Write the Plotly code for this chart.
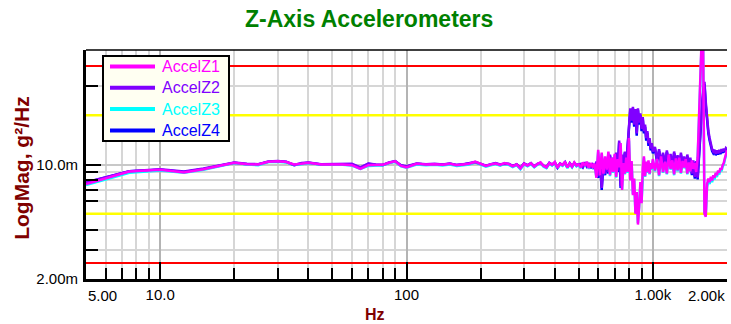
import math
import plotly.graph_objects as go

# ---------------- data ----------------
freq_hz = [5, 7.5, 10, 12.5, 15, 17.5, 20, 22.5, 25, 27.5, 30, 32.5, 35, 37.5, 40, 45, 50, 55, 60, 65,
           70, 75, 80, 85, 90, 95, 100,
           110, 120, 130, 140, 150, 160, 170, 180, 190, 200, 210, 220, 230, 240, 250, 260, 270, 280, 290, 300,
           310, 320, 330, 340, 350, 360, 370, 380, 390, 400, 410, 420, 430, 440, 450, 460, 470, 480, 490, 500,
           510, 520, 530, 540, 550, 560, 570, 580, 590, 600, 610, 620, 630, 640, 650, 660, 670, 680, 690, 700,
           710, 720, 730, 740, 750, 760, 770, 780, 790, 800, 810, 820, 830, 840, 850, 860, 870, 880, 890, 900,
           910, 920, 930, 940, 950, 960, 970, 980, 990, 1000,
           1020, 1040, 1060, 1080, 1100, 1120, 1140, 1160, 1180, 1200, 1220, 1240, 1260, 1280, 1300, 1320,
           1340, 1360, 1380, 1400, 1420, 1440, 1460, 1480, 1500, 1520, 1540, 1560, 1580, 1600, 1620, 1640,
           1660, 1680, 1700, 1720, 1740, 1760, 1780, 1800, 1820, 1840, 1860, 1880, 1900, 1920, 1940, 1960,
           1980, 2000]

# PSD values in milli-g^2/Hz
accel_z1 = [7.6, 9.05, 9.3, 8.95, 9.35, 9.8, 10.25, 10.05, 10.0, 10.4, 10.45, 10.35, 10.0, 10.1, 10.25, 10.0, 10.05, 10.0, 9.9, 9.4,
            9.9, 9.9, 9.95, 10.25, 10.45, 9.8, 9.6,
            10.1, 10.0, 10.05, 9.95, 10.1, 9.9, 10.0, 10.1, 10.4, 10.05, 9.8, 10.0, 10.15, 9.95, 10.2, 10.05, 9.75, 10.0, 9.45, 10.1,
            9.85, 10.15, 9.7, 10.05, 10.3, 9.8, 9.6, 10.2, 9.95, 10.35, 9.55, 10.1, 9.9, 10.4, 9.6, 10.15, 9.7, 10.3, 9.85, 10.0,
            9.6, 10.3, 9.8, 10.4, 9.5, 10.2, 9.7, 10.1, 8.3, 12.3, 8.6, 11.8, 8.8, 11.2, 9.3, 12.0, 8.6, 11.0, 9.0, 11.6,
            8.4, 10.8, 9.6, 13.5, 7.0, 10.2, 8.8, 11.0, 9.0, 14.5, 8.0, 10.5, 6.5, 8.2, 5.0, 6.8, 4.3, 5.5, 7.8, 5.8,
            9.5, 11.2, 8.5, 10.4, 9.0, 10.6, 8.8, 10.2, 9.4, 10.8,
            9.2, 10.8, 8.6, 11.2, 9.0, 10.4, 8.8, 11.5, 9.4, 10.6, 8.7, 10.9, 9.2, 11.0, 8.9, 10.5,
            9.6, 10.8, 8.8, 10.3, 9.1, 10.6, 9.4, 10.2, 9.0, 11.0, 20.0, 37.0, 62.0, 58.0, 5.0, 4.8,
            7.6, 8.2, 7.8, 8.4, 8.0, 8.6, 8.3, 8.9, 8.6, 9.2, 8.9, 9.5, 9.3, 9.9, 10.2, 10.9,
            11.8, 12.2]

accel_z2 = [7.8, 9.1, 9.35, 9.05, 9.45, 9.9, 10.3, 10.1, 10.05, 10.45, 10.5, 10.4, 9.95, 10.2, 10.3, 10.05, 10.1, 10.15, 10.1, 9.6,
            10.15, 10.0, 9.95, 10.3, 10.5, 9.9, 9.75,
            10.15, 10.05, 10.1, 10.0, 10.15, 9.95, 10.05, 10.15, 10.35, 10.1, 9.85, 10.05, 10.2, 10.0, 10.15, 10.1, 9.8, 10.05, 9.55, 10.15,
            9.9, 10.2, 9.75, 10.1, 10.25, 9.85, 9.65, 10.25, 10.0, 10.3, 9.6, 10.15, 9.95, 10.35, 9.65, 10.2, 9.75, 10.25, 9.9, 10.05,
            10.1, 9.7, 10.3, 9.8, 10.2, 9.6, 10.0, 9.5, 10.4, 8.5, 10.6, 7.2, 10.2, 8.8, 10.8, 9.0, 11.5, 9.2, 11.0, 9.4,
            11.8, 9.2, 14.0, 7.4, 11.5, 9.6, 12.0, 10.0, 13.5, 19.0, 22.0, 18.5, 22.5, 17.5, 21.8, 15.5, 22.0, 18.0, 20.5, 16.5,
            19.5, 16.0, 17.5, 14.5, 16.0, 13.5, 14.5, 12.5, 13.5, 12.0,
            12.8, 10.6, 12.4, 10.2, 11.8, 10.0, 12.2, 10.4, 11.6, 9.8, 12.0, 10.3, 11.4, 9.6, 11.8, 10.0,
            11.2, 9.7, 11.5, 10.1, 11.0, 8.8, 10.6, 8.4, 10.5, 8.3, 12.0, 16.0, 22.0, 28.0, 32.0, 24.0,
            19.0, 16.0, 14.5, 13.0, 12.4, 12.0, 12.3, 11.6, 12.2, 11.7, 12.3, 11.8, 12.4, 12.0, 12.5, 12.1,
            12.6, 12.4]

accel_z3 = [7.5, 8.9, 9.2, 8.9, 9.3, 9.75, 10.2, 10.0, 9.9, 10.35, 10.4, 10.3, 9.95, 10.05, 10.2, 9.95, 10.0, 9.95, 9.85, 9.4,
            9.8, 9.85, 9.9, 10.2, 10.4, 9.75, 9.55,
            10.0, 9.9, 9.95, 9.85, 10.0, 9.8, 9.9, 10.0, 10.3, 9.95, 9.7, 9.9, 10.05, 9.85, 10.1, 9.95, 9.65, 9.9, 9.35, 10.0,
            9.75, 10.05, 9.6, 9.95, 10.2, 9.7, 9.5, 10.1, 9.85, 10.25, 9.45, 10.0, 9.8, 10.3, 9.5, 10.05, 9.6, 10.2, 9.75, 9.9,
            9.5, 10.2, 9.7, 10.3, 9.4, 10.1, 9.6, 10.0, 8.4, 12.0, 8.5, 11.6, 8.7, 11.0, 9.2, 11.8, 8.5, 10.8, 8.9, 11.4,
            8.3, 10.6, 9.5, 13.2, 7.1, 10.0, 8.7, 10.8, 8.9, 14.0, 8.1, 10.3, 6.6, 8.0, 5.1, 6.7, 4.4, 5.6, 7.6, 5.9,
            9.3, 11.0, 8.4, 10.2, 8.9, 10.4, 8.7, 10.0, 9.3, 10.6,
            9.1, 10.6, 8.5, 11.0, 8.9, 10.2, 8.7, 11.3, 9.3, 10.4, 8.6, 10.7, 9.1, 10.8, 8.8, 10.3,
            9.5, 10.6, 8.7, 10.1, 9.0, 10.4, 9.3, 10.0, 8.9, 10.8, 19.0, 35.0, 58.0, 55.0, 5.1, 4.9,
            7.3, 7.9, 7.6, 8.2, 7.8, 8.4, 8.1, 8.7, 8.4, 9.0, 8.7, 9.3, 9.1, 9.7, 10.0, 10.7,
            11.6, 12.0]

accel_z4 = [7.75, 9.1, 9.3, 9.0, 9.4, 9.85, 10.25, 10.05, 10.0, 10.4, 10.45, 10.35, 9.9, 10.15, 10.25, 10.0, 10.05, 10.1, 10.05, 9.55,
            10.1, 9.95, 9.9, 10.25, 10.45, 9.85, 9.7,
            10.1, 10.0, 10.05, 9.95, 10.1, 9.9, 10.0, 10.1, 10.3, 10.05, 9.8, 10.0, 10.15, 9.95, 10.1, 10.05, 9.75, 10.0, 9.5, 10.1,
            9.85, 10.15, 9.7, 10.05, 10.2, 9.8, 9.6, 10.2, 9.95, 10.25, 9.55, 10.1, 9.9, 10.3, 9.6, 10.15, 9.7, 10.2, 9.85, 10.0,
            10.0, 9.6, 10.2, 9.7, 10.1, 9.5, 9.9, 9.4, 10.3, 8.3, 10.4, 7.0, 10.0, 8.6, 10.6, 8.8, 11.3, 9.0, 10.8, 9.2,
            11.6, 9.0, 13.6, 7.2, 11.2, 9.4, 11.8, 9.8, 13.2, 18.5, 21.5, 18.0, 22.0, 17.0, 21.2, 15.0, 21.5, 17.5, 20.0, 16.0,
            19.0, 15.5, 17.0, 14.0, 15.6, 13.0, 14.0, 12.2, 13.0, 11.7,
            12.5, 10.4, 12.1, 10.0, 11.5, 9.8, 11.9, 10.2, 11.3, 9.6, 11.7, 10.1, 11.1, 9.4, 11.5, 9.8,
            10.9, 9.5, 11.2, 9.9, 10.7, 8.6, 10.3, 8.2, 10.2, 8.1, 11.6, 15.5, 21.0, 27.0, 31.0, 23.0,
            18.5, 15.5, 14.0, 12.7, 12.1, 11.7, 12.0, 11.4, 11.9, 11.5, 12.0, 11.6, 12.1, 11.8, 12.2, 11.9,
            12.3, 12.1]

series_names = ["AccelZ1", "AccelZ2", "AccelZ3", "AccelZ4"]
series_colors = ["#ff00ff", "#8000ff", "#00ffff", "#0000ff"]

limit_red = [2.5, 40.0]      # milli g^2/Hz
limit_yellow = [5.0, 20.0]   # milli g^2/Hz

x_tick_vals = [5, 10, 100, 1000, 2000]
x_tick_text = ["5.00", "10.0", "100", "1.00k", "2.00k"]
x_minor_vals = [6, 7, 8, 9, 20, 30, 40, 50, 60, 70, 80, 90, 200, 300, 400, 500, 600, 700, 800, 900]
y_tick_vals = [2.0, 10.0]
y_tick_text = ["2.00m", "10.0m"]
y_minor_vals = [3, 4, 6, 7, 8, 9, 30]
y_range = [2.0, 50.0]
x_range = [5, 2000]

# ---------------- figure ----------------
FONT = "Liberation Sans, Arial, sans-serif"
W, H = 731, 324
ML, MR, MT, MB = 86, 4, 50, 45
PW, PH = W - ML - MR, H - MT - MB


def px_to_paper(px, py):
    return (px - ML) / PW, (H - MB - py) / PH


fig = go.Figure()

for v in limit_red:
    fig.add_trace(go.Scatter(x=x_range, y=[v * 1e-3, v * 1e-3], mode="lines",
                             line=dict(color="#ff0000", width=2), showlegend=False, hoverinfo="skip"))
for v in limit_yellow:
    fig.add_trace(go.Scatter(x=x_range, y=[v * 1e-3, v * 1e-3], mode="lines",
                             line=dict(color="#ffff00", width=2.5), showlegend=False, hoverinfo="skip"))

all_series = [accel_z1, accel_z2, accel_z3, accel_z4]
# draw bottom-to-top: Z4, Z3, Z2, Z1
for idx in [3, 2, 1, 0]:
    fig.add_trace(go.Scatter(
        x=freq_hz, y=[v * 1e-3 for v in all_series[idx]], mode="lines",
        name=series_names[idx], showlegend=False,
        line=dict(color=series_colors[idx], width=2.5),
    ))

axis_font = dict(family=FONT, size=15, color="black")
dark_red = "#800000"

# inner tick labels shown normally; edge labels are placed aligned to the plot edges
inner_text = [t if v not in (x_range[0], x_range[1]) else "" for v, t in zip(x_tick_vals, x_tick_text)]
annotations = []
for v, t in zip(x_tick_vals, x_tick_text):
    if v in (x_range[0], x_range[1]):
        annotations.append(dict(text=t, xref="x", yref="paper", x=math.log10(v), y=0,
                                xanchor="left" if v == x_range[0] else "right", yanchor="top",
                                yshift=-6, showarrow=False, font=axis_font))

# legend box (drawn as a framed key in the upper-left of the plot)
shapes = []
bx0, by0 = px_to_paper(103, 56)
bx1, by1 = px_to_paper(229, 141)
shapes.append(dict(type="rect", xref="paper", yref="paper", x0=bx0, x1=bx1, y0=by1, y1=by0,
                   fillcolor="#fffff2", line=dict(color="black", width=2), layer="above"))
for i, (name, col) in enumerate(zip(series_names, series_colors)):
    row_y = 66.5 + i * 21.3
    lx0, ly = px_to_paper(110, row_y)
    lx1, _ = px_to_paper(155, row_y)
    tx, _ = px_to_paper(160, row_y)
    shapes.append(dict(type="line", xref="paper", yref="paper", x0=lx0, x1=lx1, y0=ly, y1=ly,
                       line=dict(color=col, width=4), layer="above"))
    annotations.append(dict(text=name, xref="paper", yref="paper", x=tx, y=ly,
                            xanchor="left", yanchor="middle", showarrow=False,
                            font=dict(family=FONT, size=16, color=col)))

shapes.append(dict(type="line", xref="paper", yref="paper", x0=0, x1=1, y0=1, y1=1,
                   line=dict(color="black", width=1.5), layer="above"))

annotations += [
    dict(text="<b>Hz</b>", xref="paper", yref="paper", x=0.451, y=-0.157,
         xanchor="center", yanchor="middle", showarrow=False,
         font=dict(family=FONT, size=16, color=dark_red)),
    dict(text="<b>LogMag, g²/Hz</b>", xref="paper", yref="paper", x=-0.1, y=0.485,
         xanchor="center", yanchor="middle", showarrow=False, textangle=-90,
         font=dict(family=FONT, size=21, color=dark_red)),
]

fig.update_layout(
    width=W, height=H,
    margin=dict(l=ML, r=MR, t=MT, b=MB, autoexpand=False),
    paper_bgcolor="white", plot_bgcolor="white",
    title=dict(text="<b>Z-Axis Accelerometers</b>", x=0.505, xref="container", xanchor="center",
               y=1 - 19 / 324, yref="container", yanchor="middle", automargin=False,
               font=dict(family=FONT, size=23, color="#008000")),
    showlegend=False,
    xaxis=dict(type="log", range=[math.log10(x_range[0]), math.log10(x_range[1])],
               automargin=False,
               tickmode="array", tickvals=x_tick_vals, ticktext=inner_text,
               ticks="inside", ticklen=17, tickwidth=2, tickcolor="black",
               showline=True, linewidth=3, linecolor="black",
               showgrid=True, gridcolor="#b4b4b4", gridwidth=2,
               tickfont=axis_font, ticklabelstandoff=0,
               minor=dict(tickmode="array", tickvals=x_minor_vals, ticks="inside", ticklen=11,
                          tickwidth=2, tickcolor="black", showgrid=True, gridcolor="#d6d6d6", gridwidth=2),
               zeroline=False),
    yaxis=dict(type="log", range=[math.log10(y_range[0] * 1e-3), math.log10(y_range[1] * 1e-3)],
               automargin=False,
               tickmode="array", tickvals=[v * 1e-3 for v in y_tick_vals], ticktext=y_tick_text,
               ticks="inside", ticklen=15, tickwidth=2, tickcolor="black",
               showline=True, linewidth=3, linecolor="black",
               showgrid=True, gridcolor="#c8c8c8", gridwidth=2,
               tickfont=axis_font, ticklabelstandoff=2,
               minor=dict(tickmode="array", tickvals=[v * 1e-3 for v in y_minor_vals], ticks="inside",
                          ticklen=12, tickwidth=2, tickcolor="black", showgrid=True,
                          gridcolor="#d6d6d6", gridwidth=2),
               zeroline=False),
    shapes=shapes,
    annotations=annotations,
)

fig.write_html("out.html", config={"displayModeBar": False},
               post_script="document.body.style.margin='0px';document.body.style.overflow='hidden';")
